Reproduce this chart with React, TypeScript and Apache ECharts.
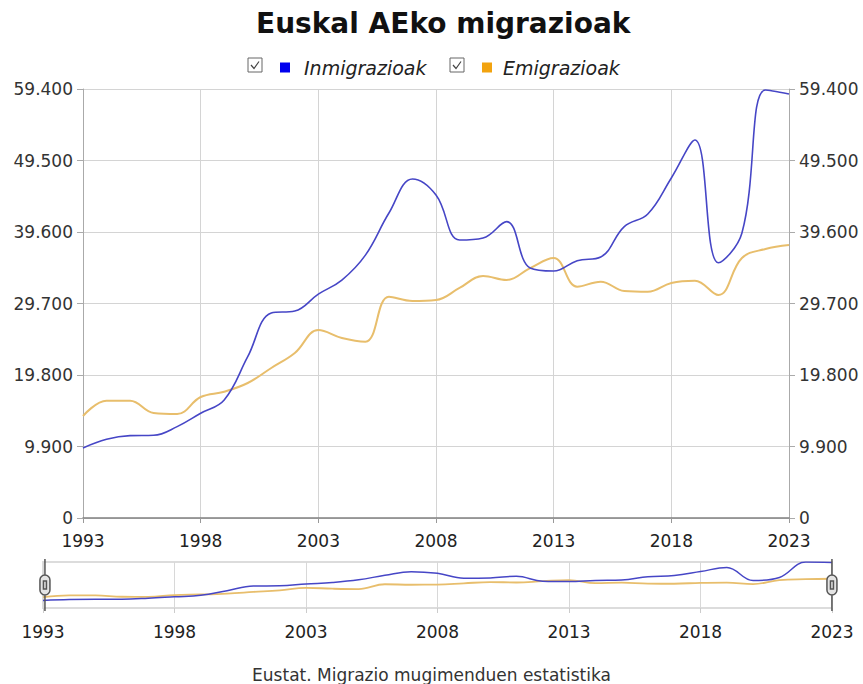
import React, { useEffect, useRef } from "react";
import * as echarts from "echarts";

const years = ["1993","1994","1995","1996","1997","1998","1999","2000","2001","2002","2003","2004","2005","2006","2007","2008","2009","2010","2011","2012","2013","2014","2015","2016","2017","2018","2019","2020","2021","2022","2023"];
const inmigrazioak = [9700, 10900, 11400, 11450, 12650, 14500, 16340, 22330, 28380, 28660, 31000, 32950, 36400, 42230, 46940, 44720, 38490, 38770, 41030, 34620, 34200, 35630, 36140, 40340, 42090, 47080, 52340, 35350, 39460, 59260, 58700];
const emigrazioak = [14120, 16240, 16240, 14540, 14400, 16750, 17490, 18690, 20770, 22850, 26030, 24920, 24410, 30640, 30050, 30180, 31850, 33510, 32950, 34610, 36000, 32030, 32720, 31430, 31330, 32540, 32860, 30880, 36000, 37250, 37800];
const titleText = "Euskal AEko migrazioak";
const sourceText = "Eustat. Migrazio mugimenduen estatistika";
const seriesNames = ["Inmigrazioak", "Emigrazioak"];
const yMax = 59400;
const yStep = 9900;

const FONT = "DejaVu Sans";
const BLUE_ICON = "#0000ee";
const BLUE_LINE = "#4646c6";
const ORANGE_ICON = "#f2a30f";
const ORANGE_LINE = "#e8be6c";

const fmt = (v: number) => {
  if (v === 0) return "0";
  const s = Math.round(v).toString();
  return s.replace(/\B(?=(\d{3})+(?!\d))/g, ".");
};

const checkbox = (x: number, y: number) => [
  { type: "rect", shape: { x, y, width: 14, height: 14 }, style: { fill: "#fff", stroke: "#666", lineWidth: 1 } },
  { type: "polyline", shape: { points: [[x + 3, y + 7], [x + 6, y + 10.5], [x + 11, y + 3.5]] }, style: { stroke: "#444", lineWidth: 1.2, fill: null } },
];

export default function App() {
  const ref = useRef<HTMLDivElement>(null);
  useEffect(() => {
    document.body.style.margin = "0";
    const chart = echarts.init(ref.current!, null, { renderer: "svg" });
    const handleIcon =
      "path://M5,0V16M5,36V52M0,21A5,5,0,0,1,10,21V31A5,5,0,0,1,0,31ZM3.5,22H6.5V30H3.5Z";
    chart.setOption({
      animation: false,
      textStyle: { fontFamily: FONT },
      title: [
        { text: titleText, left: 251, top: 4, textStyle: { fontFamily: FONT, fontSize: 28, fontWeight: "bold", color: "#111" } },
        { text: sourceText, left: "center", top: 661, textStyle: { fontFamily: FONT, fontSize: 17, fontWeight: "normal", color: "#333" } },
      ],
      legend: [
        {
          data: [{ name: seriesNames[0], itemStyle: { color: BLUE_ICON } }],
          left: 275, top: 53, icon: "rect", itemWidth: 10, itemHeight: 10,
          textStyle: { fontFamily: FONT, fontSize: 19, fontStyle: "italic", color: "#222", padding: [0, 0, 0, 9] },
        },
        {
          data: [{ name: seriesNames[1], itemStyle: { color: ORANGE_ICON } }],
          left: 477, top: 53, icon: "rect", itemWidth: 10, itemHeight: 10,
          textStyle: { fontFamily: FONT, fontSize: 19, fontStyle: "italic", color: "#222", padding: [0, 0, 0, 6] },
        },
      ],
      graphic: [...checkbox(248, 58), ...checkbox(450, 58)],
      grid: [
        { left: 83, right: 74, top: 89, height: 429, containLabel: false },
        { left: 43, right: 31, top: 562, height: 46, show: true, borderColor: "#dcdcdc", borderWidth: 2, backgroundColor: "transparent" },
      ],
      xAxis: [
        {
          type: "category", gridIndex: 0, data: years, boundaryGap: false,
          axisLine: { show: true, lineStyle: { color: "#808080", width: 1.5 } },
          axisTick: { show: true, interval: 4, length: 5, lineStyle: { color: "#999" } },
          axisLabel: { interval: 4, fontSize: 17, color: "#222", margin: 14, fontFamily: FONT },
          splitLine: { show: true, interval: 4, lineStyle: { color: "#d4d4d4" } },
        },
        {
          type: "category", gridIndex: 1, data: years, boundaryGap: false,
          axisLine: { show: false },
          axisTick: { show: true, interval: 4, length: 5, lineStyle: { color: "#ccc" } },
          axisLabel: { interval: 4, fontSize: 17, color: "#222", margin: 15, fontFamily: FONT },
          splitLine: { show: true, interval: 4, lineStyle: { color: "#d8d8d8" } },
        },
      ],
      yAxis: [
        {
          type: "value", gridIndex: 0, min: 0, max: yMax, interval: yStep, position: "left",
          axisLine: { show: true, lineStyle: { color: "#aaa" } },
          axisTick: { show: true, length: 6, lineStyle: { color: "#aaa" } },
          axisLabel: { formatter: fmt, fontSize: 17, color: "#333", margin: 10, fontFamily: FONT },
          splitLine: { show: true, lineStyle: { color: "#d4d4d4" } },
        },
        {
          type: "value", gridIndex: 0, min: 0, max: yMax, interval: yStep, position: "right",
          axisLine: { show: true, lineStyle: { color: "#aaa" } },
          axisTick: { show: true, length: 6, lineStyle: { color: "#aaa" } },
          axisLabel: { formatter: fmt, fontSize: 17, color: "#333", margin: 10, fontFamily: FONT },
          splitLine: { show: false },
        },
        {
          type: "value", gridIndex: 1, min: 0, max: yMax, show: false,
          splitLine: { show: false },
        },
      ],
      dataZoom: [
        {
          type: "slider", xAxisIndex: 0, start: 0, end: 100,
          left: 43, right: 31, top: 562, height: 46,
          showDataShadow: false, showDetail: false, brushSelect: false,
          moveHandleSize: 0,
          fillerColor: "rgba(0,0,0,0)", borderColor: "transparent", backgroundColor: "transparent",
          handleIcon, handleSize: "113%",
          handleStyle: { color: "#e4e4e4", borderColor: "#555", borderWidth: 1.5 },
          emphasis: { handleStyle: { color: "#e4e4e4", borderColor: "#555" } },
        },
      ],
      series: [
        {
          name: seriesNames[0], type: "line", xAxisIndex: 0, yAxisIndex: 0, data: inmigrazioak,
          smooth: 0.4, showSymbol: false, itemStyle: { color: BLUE_ICON },
          lineStyle: { color: BLUE_LINE, width: 1.6 }, z: 3,
        },
        {
          name: seriesNames[1], type: "line", xAxisIndex: 0, yAxisIndex: 0, data: emigrazioak,
          smooth: 0.4, showSymbol: false, itemStyle: { color: ORANGE_ICON },
          lineStyle: { color: ORANGE_LINE, width: 2 }, z: 2,
        },
        {
          name: seriesNames[0], type: "line", xAxisIndex: 1, yAxisIndex: 2, data: inmigrazioak,
          smooth: 0.4, showSymbol: false, silent: true, itemStyle: { color: BLUE_ICON },
          lineStyle: { color: BLUE_LINE, width: 1.5 }, z: 3,
        },
        {
          name: seriesNames[1], type: "line", xAxisIndex: 1, yAxisIndex: 2, data: emigrazioak,
          smooth: 0.4, showSymbol: false, silent: true, itemStyle: { color: ORANGE_ICON },
          lineStyle: { color: ORANGE_LINE, width: 1.8 }, z: 2,
        },
      ],
    });
    return () => chart.dispose();
  }, []);
  return <div ref={ref} style={{ width: 863, height: 684 }} />;
}
